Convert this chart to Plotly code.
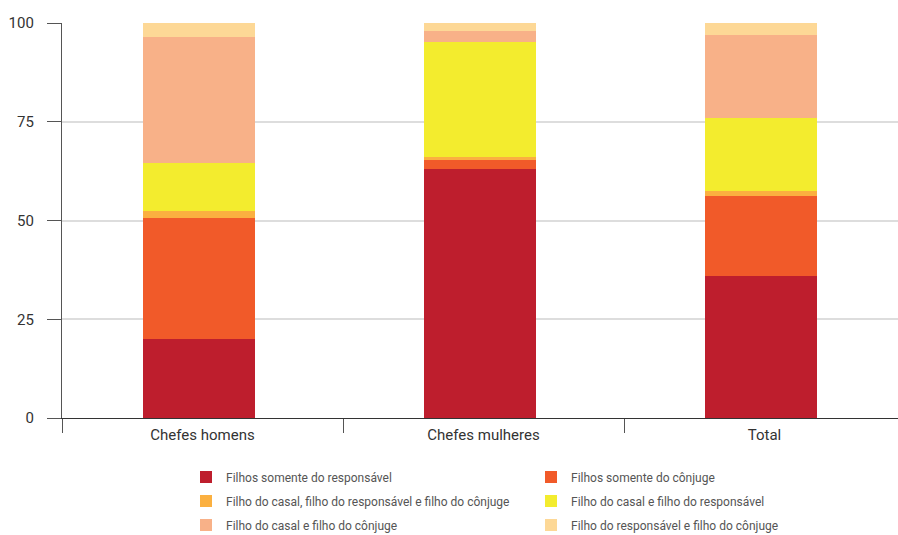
import plotly.graph_objects as go

# Categories and stacked shares (%)
categories = ["Chefes homens", "Chefes mulheres", "Total"]

series_names = [
    "Filhos somente do responsável",
    "Filhos somente do cônjuge",
    "Filho do casal, filho do responsável e filho do cônjuge",
    "Filho do casal e filho do responsável",
    "Filho do casal e filho do cônjuge",
    "Filho do responsável e filho do cônjuge",
]

filhos_resp = [19.9, 63.1, 36.0]
filhos_conj = [30.8, 2.2, 20.3]
casal_resp_conj = [1.7, 0.9, 1.2]
casal_resp = [12.1, 29.1, 18.4]
casal_conj = [32.0, 2.7, 21.1]
resp_conj = [3.5, 2.0, 3.0]

series_values = [filhos_resp, filhos_conj, casal_resp_conj, casal_resp, casal_conj, resp_conj]

colors = ["#BE1E2D", "#F15A29", "#FBB040", "#F3EC2E", "#F8B188", "#FDD896"]

y_ticks = [0, 25, 50, 75, 100]

W, H = 898, 535
FONT = "Roboto"

fig = go.Figure()

legend_ids = ["legend", "legend2", "legend3", "legend4", "legend5", "legend6"]
for name, vals, col, lg in zip(series_names, series_values, colors, legend_ids):
    fig.add_trace(go.Bar(
        x=categories, y=vals, name=name,
        marker=dict(color=col, line=dict(width=0)),
        width=0.4, offset=-0.213,
        legend=lg, showlegend=True,
        hovertemplate="%{x}<br>" + name + ": %{y}<extra></extra>",
    ))

# Two-column legend, one legend box per entry
col_x = [186, 531]
row_y = [477, 501, 525]
legend_layout = {}
for i, lg in enumerate(legend_ids):
    r, c = divmod(i, 2)
    legend_layout[lg] = dict(
        xref="container", yref="container",
        x=col_x[c] / W, y=1 - row_y[r] / H,
        xanchor="left", yanchor="middle",
        orientation="h",
        font=dict(family=FONT, size=12, color="#555555"),
        bgcolor="rgba(0,0,0,0)",
    )

fig.update_layout(
    width=W, height=H,
    margin=dict(l=62, r=0, t=23, b=117),
    paper_bgcolor="white", plot_bgcolor="white",
    barmode="stack",
    showlegend=True,
    font=dict(family=FONT, color="#333333"),
    xaxis=dict(
        range=[-0.5, -0.5 + 836 / 281],
        tickson="boundaries",
        ticks="outside", ticklen=14, tickwidth=1.3, tickcolor="#555555",
        showline=True, linecolor="#333333", linewidth=1.3,
        showgrid=False,
        tickfont=dict(size=15, color="#333333"),
        ticklabelstandoff=3,
    ),
    yaxis=dict(
        range=[0, 100],
        tickvals=y_ticks,
        ticks="outside", ticklen=14, tickwidth=1.3, tickcolor="#555555",
        showline=True, linecolor="#555555", linewidth=1.3,
        showgrid=True, gridcolor="#DDDDDD", gridwidth=1.5,
        zeroline=False,
        tickfont=dict(size=15, color="#333333"),
        ticklabelstandoff=10,
    ),
    **legend_layout,
)

fig.write_html("out.html")
